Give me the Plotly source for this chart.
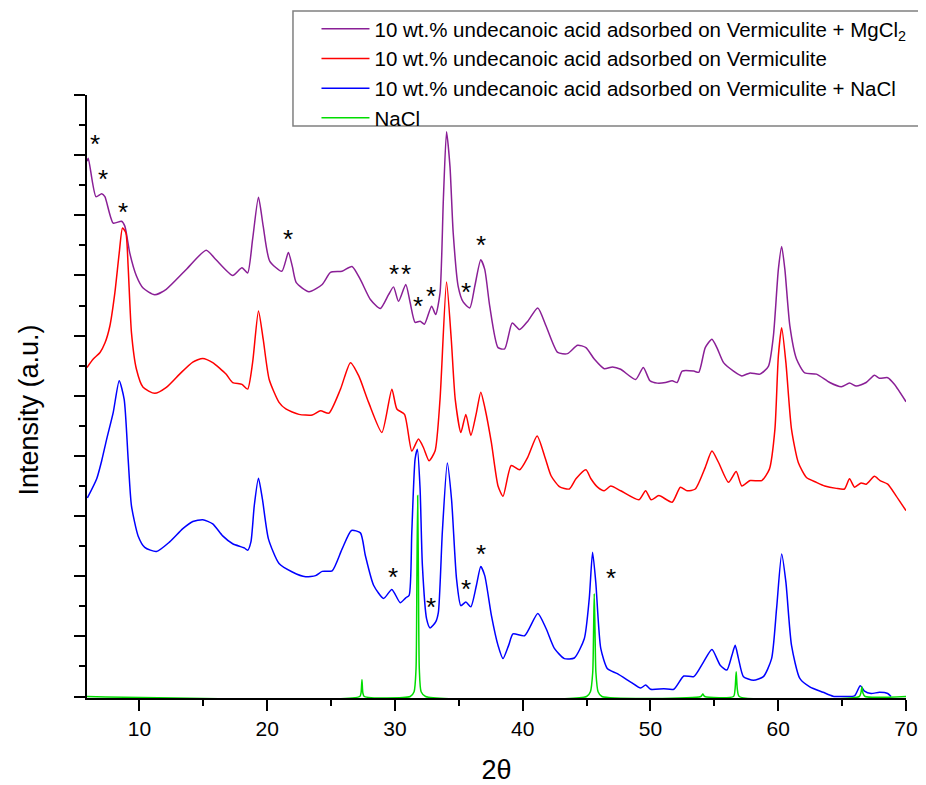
import plotly.graph_objects as go

# ---------------- data (2θ, intensity in a.u.) ----------------
mg_x = [5.9, 6.0, 6.6, 7.05, 7.3, 7.95, 8.6, 8.86, 9.25, 9.77, 10.29, 11.2, 12.1, 13.67, 15.23, 16.0,
        17.3, 18.03, 18.47, 18.86, 19.32, 19.69, 20.2, 21.15, 21.66, 21.97, 22.28, 23.27, 24.31, 24.96,
        25.86, 26.64, 27.3, 28.08, 28.86, 29.5, 29.89, 30.28, 30.85, 31.19, 31.58, 31.97, 32.31, 32.87,
        33.19, 33.53, 33.79, 34.04, 34.31, 34.56, 34.95, 35.34, 35.86, 36.25, 36.72, 37.03, 37.42, 38.07,
        38.59, 39.18, 39.76, 40.4, 41.18, 41.83, 42.74, 43.5, 44.3, 44.95, 45.6, 46.38, 47.03, 47.67,
        48.84, 49.44, 49.96, 50.53, 51.18, 51.7, 52.09, 52.48, 53.39, 53.78, 54.29, 54.81, 55.2, 55.72,
        56.5, 57.15, 57.8, 58.57, 59.23, 59.62, 60.01, 60.27, 60.52, 60.91, 61.43, 62.08, 62.99, 64.03,
        64.94, 65.58, 66.11, 66.88, 67.53, 67.92, 68.57, 69.09, 70.0]
mg_y = [89.0, 89.5, 83.1, 83.6, 83.1, 78.7, 79.0, 78.2, 73.7, 69.9, 67.9, 66.8, 67.7, 71.0, 74.2, 72.6,
        70.0, 71.3, 70.4, 76.0, 83.0, 78.2, 72.4, 70.7, 73.8, 71.5, 68.8, 67.3, 68.5, 70.5,
        70.7, 71.5, 69.3, 66.0, 64.5, 66.8, 68.1, 65.7, 68.5, 65.5, 62.2, 62.4, 61.9, 64.9,
        63.5, 67.1, 82.6, 93.9, 88.1, 77.1, 68.2, 65.6, 64.6, 68.2, 72.6, 71.0, 64.9, 58.0,
        57.8, 62.1, 61.0, 62.4, 64.6, 61.6, 57.2, 57.0, 58.4, 58.0, 56.1, 54.5, 54.8, 54.4,
        52.7, 54.7, 52.5, 52.1, 52.2, 52.5, 52.2, 54.1, 54.1, 53.9, 58.0, 59.4, 58.0, 55.5,
        54.1, 53.3, 53.8, 53.6, 54.9, 59.9, 71.0, 74.8, 71.0, 61.6, 56.1, 53.8, 53.6, 52.2,
        51.5, 52.1, 51.6, 52.2, 53.4, 52.9, 53.0, 51.9, 49.0]

verm_x = [5.9, 6.39, 6.92, 7.31, 7.69, 8.08, 8.42, 8.68, 8.94, 9.12, 9.38, 9.77, 10.29, 11.2, 12.11,
          13.15, 14.18, 14.96, 15.74, 16.78, 17.3, 18.03, 18.47, 18.86, 19.32, 19.69, 20.16, 20.93,
          21.46, 22.49, 23.53, 24.18, 24.83, 25.74, 26.52, 27.17, 27.94, 28.98, 29.76, 30.15, 30.75,
          31.32, 31.84, 32.23, 32.67, 33.14, 33.53, 34.04, 34.41, 34.72, 35.16, 35.55, 35.94, 36.38,
          36.72, 37.06, 37.55, 38.07, 38.46, 39.1, 39.76, 40.4, 41.13, 41.71, 42.22, 42.87, 43.65,
          44.17, 44.95, 45.34, 45.86, 46.38, 46.89, 47.67, 49.1, 49.62, 50.06, 50.66, 51.7, 52.34,
          52.87, 53.51, 54.29, 54.81, 55.33, 56.11, 56.71, 57.15, 57.8, 58.71, 59.31, 59.74, 60.01,
          60.27, 60.6, 61.04, 61.57, 62.21, 62.99, 63.64, 64.55, 65.19, 65.58, 65.97, 66.49, 66.88,
          67.53, 67.97, 68.57, 69.21, 70.0]
verm_y = [54.7, 56.1, 57.2, 58.8, 61.6, 67.1, 73.7, 77.9, 77.1, 71.5, 60.5, 54.4, 51.4, 50.4, 51.4,
          53.6, 55.6, 56.2, 55.5, 53.6, 52.2, 51.9, 51.1, 55.5, 64.1, 59.4, 52.7, 48.9,
          47.8, 46.9, 46.8, 47.5, 47.1, 51.1, 55.5, 53.3, 48.9, 43.9, 51.1, 47.8, 46.9,
          40.8, 42.8, 41.4, 39.2, 40.8, 49.4, 68.9, 59.4, 49.4, 43.9, 46.9, 43.4, 47.2,
          50.6, 47.8, 42.2, 35.0, 33.3, 38.4, 37.7, 39.8, 43.3, 40.0, 36.7, 34.9, 34.5,
          36.2, 37.7, 36.2, 34.8, 34.2, 35.0, 34.2, 32.7, 34.2, 32.7, 33.4, 32.3, 34.8,
          34.2, 34.5, 38.1, 40.8, 38.9, 35.6, 37.4, 35.0, 35.9, 35.9, 37.8, 44.4, 56.6,
          61.3, 55.5, 44.4, 38.9, 36.4, 35.6, 35.0, 34.6, 34.5, 36.2, 34.8, 35.5, 35.3,
          36.6, 35.9, 35.3, 33.4, 30.9]

nacl_mix_x = [5.93, 6.66, 7.05, 7.44, 7.95, 8.42, 8.81, 9.12, 9.38, 9.9, 10.42, 11.33, 12.37, 13.4,
              14.18, 14.96, 15.74, 16.52, 17.3, 18.21, 18.47, 18.73, 18.99, 19.32, 19.63, 20.1, 20.93,
              21.97, 23.01, 23.79, 24.31, 25.09, 25.86, 26.6, 27.3, 27.69, 28.33, 29.11, 29.76, 30.41,
              30.85, 31.11, 31.32, 31.58, 31.76, 31.97, 32.15, 32.48, 32.75, 33.19, 33.4, 33.71, 34.1,
              34.43, 34.82, 35.16, 35.55, 35.94, 36.38, 36.72, 37.03, 37.55, 38.07, 38.46, 38.9, 39.24,
              40.15, 41.18, 41.83, 42.48, 43.26, 44.04, 44.82, 45.21, 45.47, 45.72, 46.11, 46.64, 47.41,
              48.45, 49.23, 49.62, 50.01, 51.05, 51.83, 52.61, 53.39, 54.17, 54.81, 55.46, 55.98, 56.37,
              56.63, 56.89, 57.28, 58.06, 58.84, 59.48, 59.87, 60.27, 60.6, 61.04, 61.69, 62.47, 63.51,
              64.29, 65.17, 65.97, 66.42, 66.75, 67.27, 67.92, 68.57, 68.83]
nacl_mix_y = [33.0, 36.2, 39.2, 42.8, 47.2, 52.5, 49.4, 39.5, 31.7, 26.7, 24.8, 24.1, 25.7, 27.9,
              29.1, 29.4, 28.7, 26.7, 25.4, 24.7, 24.3, 25.7, 31.7, 36.3, 32.8, 26.2, 22.1,
              20.7, 19.9, 20.1, 20.8, 20.9, 24.5, 27.6, 27.2, 23.4, 18.5, 16.3, 17.8, 15.6,
              16.4, 16.8, 27.3, 39.5, 41.1, 34.5, 21.8, 12.9, 11.4, 12.4, 14.0, 27.3, 38.8,
              32.8, 19.6, 15.1, 15.7, 14.9, 18.5, 21.6, 20.1, 13.5, 8.5, 6.3, 8.5, 10.4,
              10.1, 13.8, 11.3, 8.0, 6.3, 6.4, 9.6, 16.3, 24.0, 19.0, 8.0, 4.6, 3.8,
              2.4, 1.4, 1.9, 1.2, 1.3, 1.2, 3.4, 3.3, 5.8, 7.8, 5.2, 4.4, 6.8,
              8.5, 6.3, 3.3, 2.7, 3.3, 6.3, 14.6, 23.7, 19.0, 8.5, 3.0, 1.6, 0.7,
              0.05, 0.0, 0.1, 1.8, 0.9, 0.5, 0.7, 0.5, 0.0]

nacl_x = [5.9, 27.25, 27.35, 27.42, 27.49, 27.6, 31.2, 31.5, 31.65, 31.72, 31.78, 31.84, 31.91, 32.05,
          32.4, 45.0, 45.3, 45.48, 45.55, 45.6, 45.66, 45.73, 45.9, 46.2, 53.95, 54.1, 54.25, 56.5,
          56.62, 56.71, 56.8, 56.95, 66.35, 66.47, 66.55, 66.63, 66.8, 70.0]
nacl_y = [0.0, 0.0, 0.6, 2.8, 0.6, 0.0, 0.0, 0.8, 4.5, 20.0, 33.4, 20.0, 4.5, 0.8,
          0.0, 0.0, 0.8, 4.0, 11.0, 17.1, 11.0, 4.0, 0.8, 0.0, 0.0, 0.4, 0.0, 0.0,
          1.2, 4.1, 1.2, 0.0, 0.0, 0.6, 1.6, 0.6, 0.0, 0.0]

names = ["10 wt.% undecanoic acid adsorbed on Vermiculite + MgCl<sub>2</sub>",
         "10 wt.% undecanoic acid adsorbed on Vermiculite",
         "10 wt.% undecanoic acid adsorbed on Vermiculite + NaCl",
         "NaCl"]
colors = ["#8a1f96", "#ff0000", "#0000ff", "#00dd00"]

# asterisk markers (2θ, intensity)
star_x = [6.53, 7.13, 8.68, 21.66, 29.89, 30.85, 31.78, 32.80, 35.60, 36.77,
          29.81, 32.80, 35.55, 36.77, 46.89]
star_y = [92.6, 86.7, 81.2, 76.8, 70.9, 70.9, 65.6, 67.2, 67.9, 75.7,
          20.6, 15.5, 18.5, 24.4, 20.4]

x_ticks = [10, 20, 30, 40, 50, 60, 70]

FONT = "Liberation Sans, Arial, sans-serif"

fig = go.Figure()
for xs, ys, nm, col in [(mg_x, mg_y, names[0], colors[0]), (verm_x, verm_y, names[1], colors[1]),
                        (nacl_mix_x, nacl_mix_y, names[2], colors[2]), (nacl_x, nacl_y, names[3], colors[3])]:
    fig.add_trace(go.Scatter(x=xs, y=ys, mode="lines", name=nm,
                             line=dict(color=col, width=1.5, shape="spline", smoothing=0.6)))

annotations = [dict(x=sx, y=sy, xref="x", yref="y", text="*", showarrow=False,
                    font=dict(family=FONT, size=26, color="black"), yshift=-4)
               for sx, sy in zip(star_x, star_y)]
annotations.append(dict(x=-0.0714, y=0.4776, xref="paper", yref="paper", text="Intensity (a.u.)",
                        textangle=-90, showarrow=False, font=dict(family=FONT, size=27, color="black"),
                        xanchor="center", yanchor="middle"))

# legend frame
shapes = [dict(type="rect", xref="paper", yref="paper", x0=0.2515, x1=1.04, y0=0.9486, y1=1.1393,
               line=dict(color="#808080", width=1.5), fillcolor="white", layer="below")]

fig.update_layout(
    width=918, height=777,
    margin=dict(l=79, r=20, t=87, b=87, autoexpand=False),
    paper_bgcolor="white", plot_bgcolor="white",
    font=dict(family=FONT, color="black"),
    showlegend=True,
    legend=dict(x=0.2802, y=1.1426, xanchor="left", yanchor="top", bgcolor="rgba(0,0,0,0)",
                borderwidth=0, font=dict(size=20.5, color="black"),
                itemwidth=48, tracegroupgap=0),
    annotations=annotations,
    shapes=shapes,
    xaxis=dict(range=[5.9, 70], showline=True, linecolor="black", linewidth=2, mirror=False,
               ticks="outside", ticklen=11, tickwidth=2, tickcolor="black",
               tickvals=x_ticks, tickfont=dict(size=21, color="black"),
               minor=dict(dtick=5, tick0=0, ticks="outside", ticklen=6, tickwidth=2, tickcolor="black",
                          showgrid=False),
               showgrid=False, zeroline=False, layer="below traces", automargin=False,
               title=dict(text="2θ", font=dict(size=27, color="black"), standoff=25)),
    yaxis=dict(range=[-0.25, 100], showline=True, linecolor="black", linewidth=2, mirror=False,
               ticks="outside", ticklen=11, tickwidth=2, tickcolor="black", dtick=10, tick0=0,
               showticklabels=False, automargin=False,
               minor=dict(dtick=5, tick0=0, ticks="outside", ticklen=6, tickwidth=2, tickcolor="black",
                          showgrid=False),
               showgrid=False, zeroline=False),
)

fig.write_html("out.html")
